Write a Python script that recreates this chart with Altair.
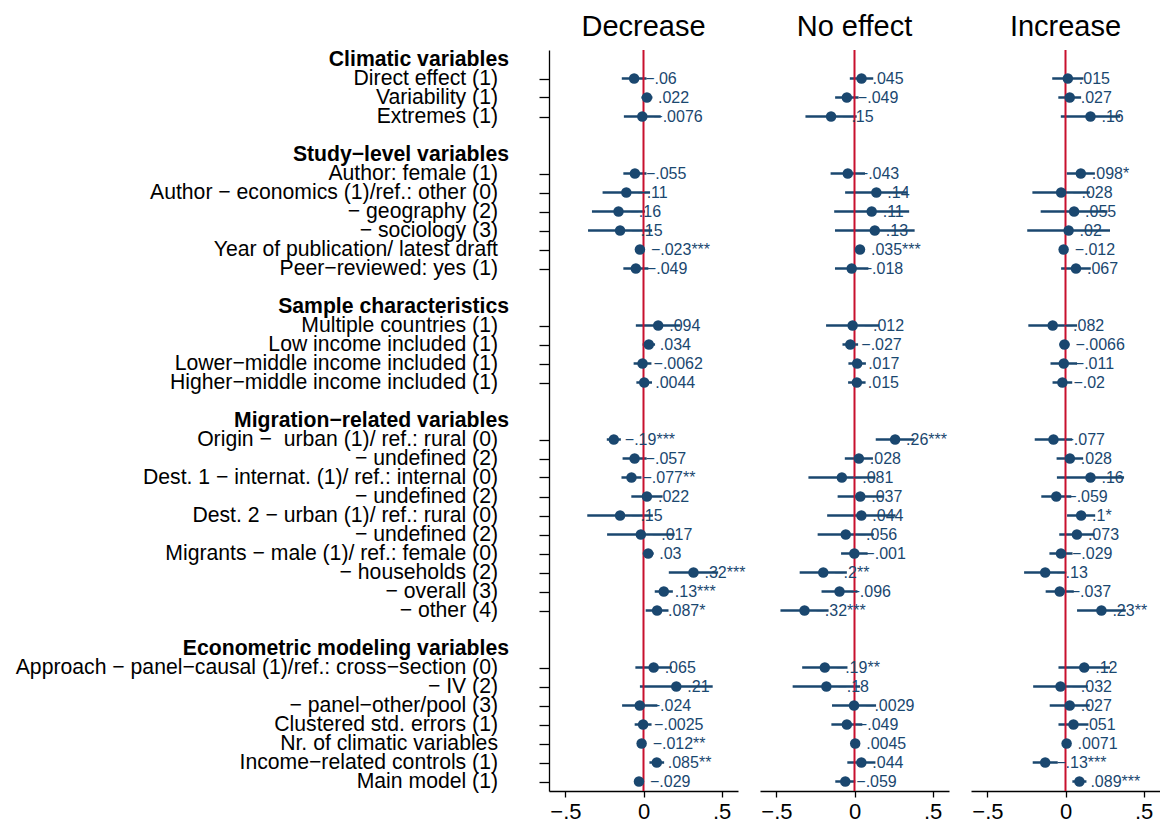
import altair as alt
import pandas as pd

FONT = "Liberation Sans"
NAVY = "#1a476f"
RED = "#c8102e"

# ---- row structure -------------------------------------------------------
group_titles = [
    "Climatic variables",
    "Study−level variables",
    "Sample characteristics",
    "Migration−related variables",
    "Econometric modeling variables",
]
group_items = [
    ["Direct effect (1)", "Variability (1)", "Extremes (1)"],
    ["Author: female (1)", "Author − economics (1)/ref.: other (0)", "− geography (2)",
     "− sociology (3)", "Year of publication/ latest draft", "Peer−reviewed: yes (1)"],
    ["Multiple countries (1)", "Low income included (1)",
     "Lower−middle income included (1)", "Higher−middle income included (1)"],
    ["Origin − \u00a0urban (1)/ ref.: rural (0)", "− undefined (2)",
     "Dest. 1 − internat. (1)/ ref.: internal (0)", "− undefined (2)",
     "Dest. 2 − urban (1)/ ref.: rural (0)", "− undefined (2)",
     "Migrants − male (1)/ ref.: female (0)", "− households (2)",
     "− overall (3)", "− other (4)"],
    ["Approach − panel−causal (1)/ref.: cross−section (0)", "− IV (2)",
     "− panel−other/pool (3)", "Clustered std. errors (1)",
     "Nr. of climatic variables", "Income−related controls (1)", "Main model (1)"],
]

# ---- estimates per outcome: coefficient, CI half-width, significance ----
decrease_coef = [-0.06, 0.022, -0.0076,
                 -0.055, -0.11, -0.16, -0.15, -0.023, -0.049,
                 0.094, 0.034, -0.0062, 0.0044,
                 -0.19, -0.057, -0.077, 0.022, -0.15, -0.017, 0.03, 0.32, 0.13, 0.087,
                 0.065, 0.21, -0.024, -0.0025, -0.012, 0.085, -0.029]
decrease_half = [0.079, 0.035, 0.118,
                 0.074, 0.152, 0.17, 0.205, 0.012, 0.08,
                 0.143, 0.04, 0.057, 0.05,
                 0.045, 0.077, 0.064, 0.1, 0.21, 0.216, 0.035, 0.158, 0.058, 0.073,
                 0.117, 0.233, 0.113, 0.054, 0.008, 0.047, 0.03]
decrease_stars = ["", "", "",
                  "", "", "", "", "***", "",
                  "", "", "", "",
                  "***", "", "**", "", "", "", "", "***", "***", "*",
                  "", "", "", "", "**", "**", ""]

noeffect_coef = [0.045, -0.049, -0.15,
                 -0.043, 0.14, 0.11, 0.13, 0.035, -0.018,
                 -0.012, -0.027, 0.017, 0.015,
                 0.26, 0.028, -0.081, 0.037, 0.044, -0.056, -0.001, -0.2, -0.096, -0.32,
                 -0.19, -0.18, -0.0029, -0.049, 0.0045, 0.044, -0.059]
noeffect_half = [0.075, 0.075, 0.164,
                 0.11, 0.2, 0.24, 0.255, 0.012, 0.107,
                 0.17, 0.05, 0.056, 0.056,
                 0.124, 0.09, 0.214, 0.145, 0.219, 0.18, 0.085, 0.151, 0.115, 0.154,
                 0.145, 0.216, 0.141, 0.099, 0.008, 0.09, 0.064]
noeffect_stars = ["", "", "",
                  "", "", "", "", "***", "",
                  "", "", "", "",
                  "***", "", "", "", "", "", "", "**", "", "***",
                  "**", "", "", "", "", "", ""]

increase_coef = [0.015, 0.027, 0.16,
                 0.098, -0.028, 0.055, 0.02, -0.012, 0.067,
                 -0.082, -0.0066, -0.011, -0.02,
                 -0.077, 0.028, 0.16, -0.059, 0.1, 0.073, -0.029, -0.13, -0.037, 0.23,
                 0.12, -0.032, 0.027, 0.051, 0.0071, -0.13, 0.089]
increase_half = [0.1, 0.073, 0.19,
                 0.09, 0.184, 0.214, 0.265, 0.015, 0.095,
                 0.156, 0.032, 0.085, 0.063,
                 0.12, 0.085, 0.215, 0.096, 0.09, 0.113, 0.074, 0.135, 0.09, 0.156,
                 0.165, 0.175, 0.128, 0.096, 0.008, 0.08, 0.045]
increase_stars = ["", "", "",
                  "*", "", "", "", "", "",
                  "", "", "", "",
                  "", "", "", "", "*", "", "", "", "", "**",
                  "", "", "", "", "", "***", "***"]

# ---- lay rows out: heading, items, blank line between groups ------------
heading_rows, item_rows, item_labels = [], [], []
pos = 0
for g, (title, items) in enumerate(zip(group_titles, group_items)):
    if g > 0:
        pos += 1  # empty line before each new block
    heading_rows.append(pos)
    pos += 1
    for it in items:
        item_rows.append(pos)
        item_labels.append(it)
        pos += 1
n_rows = pos

y_scale = alt.Scale(domain=[-0.5, n_rows - 0.5], reverse=True, nice=False, zero=False)
x_scale = alt.Scale(domain=[-0.605, 0.605], nice=False, zero=False)


def fmt(v, stars):
    s = f"{abs(v):g}"
    if s.startswith("0."):
        s = s[1:]
    return ("−" if v < 0 else "") + s + stars


def panel(title, coef, half, stars, first):
    df = pd.DataFrame({
        "row": item_rows,
        "coef": coef,
        "lo": [c - h for c, h in zip(coef, half)],
        "hi": [c + h for c, h in zip(coef, half)],
        "lab": [fmt(c, s) for c, s in zip(coef, stars)],
    })
    if first:
        y_axis = alt.Axis(values=item_rows, labels=False, title=None, grid=False,
                          tickSize=10, tickWidth=1.3, tickColor="black",
                          domainColor="black", domainWidth=1.3)
    else:
        y_axis = None
    x_axis = alt.Axis(values=[-0.5, 0, 0.5], title=None, grid=False,
                      labelExpr="datum.value == 0 ? '0' : (datum.value < 0 ? '−.5' : '.5')",
                      tickSize=6, tickWidth=1.3, tickColor="black",
                      domainColor="black", domainWidth=1.3,
                      labelFontSize=22, labelColor="black", labelFont=FONT,
                      labelPadding=4)

    base = alt.Chart(df)
    ci = base.mark_rule(color=NAVY, strokeWidth=2.5).encode(
        x=alt.X("lo:Q", scale=x_scale, axis=x_axis),
        x2="hi:Q",
        y=alt.Y("row:Q", scale=y_scale, axis=y_axis),
    )
    zero = alt.Chart(pd.DataFrame({"z": [0]})).mark_rule(color=RED, strokeWidth=2).encode(
        x=alt.X("z:Q", scale=x_scale, axis=x_axis)
    )
    pts = base.mark_circle(color=NAVY, opacity=1, size=110).encode(
        x=alt.X("coef:Q", scale=x_scale, axis=x_axis),
        y=alt.Y("row:Q", scale=y_scale, axis=y_axis),
    )
    txt = base.mark_text(align="left", baseline="middle", dx=11, fontSize=16,
                         font=FONT, color=NAVY).encode(
        x=alt.X("coef:Q", scale=x_scale, axis=x_axis),
        y=alt.Y("row:Q", scale=y_scale, axis=y_axis),
        text="lab:N",
    )
    layers = [ci, zero, pts, txt]
    if first:
        items_df = pd.DataFrame({"row": item_rows, "name": item_labels})
        heads_df = pd.DataFrame({"row": heading_rows, "name": group_titles})
        item_txt = alt.Chart(items_df).mark_text(
            align="right", baseline="middle", fontSize=21.2, font=FONT, color="black"
        ).encode(x=alt.value(-51), y=alt.Y("row:Q", scale=y_scale, axis=y_axis),
                 text="name:N")
        head_txt = alt.Chart(heads_df).mark_text(
            align="right", baseline="middle", fontSize=21.2, font=FONT,
            fontWeight="bold", color="black"
        ).encode(x=alt.value(-40), y=alt.Y("row:Q", scale=y_scale, axis=y_axis),
                 text="name:N")
        layers += [item_txt, head_txt]
    return alt.layer(*layers).properties(
        width=189, height=19 * n_rows,
        title=alt.TitleParams(title, fontSize=29, fontWeight="normal", font=FONT,
                              color="black", anchor="middle", offset=7),
    )


chart = alt.hconcat(
    panel("Decrease", decrease_coef, decrease_half, decrease_stars, True),
    panel("No effect", noeffect_coef, noeffect_half, noeffect_stars, False),
    panel("Increase", increase_coef, increase_half, increase_stars, False),
    spacing=22, bounds="flush",
).properties(
    padding={"left": 15, "top": 12, "right": 0, "bottom": 0},
).configure(font=FONT).configure_view(stroke=None)

chart.save("out.html", embed_options={"renderer": "svg", "actions": False})
